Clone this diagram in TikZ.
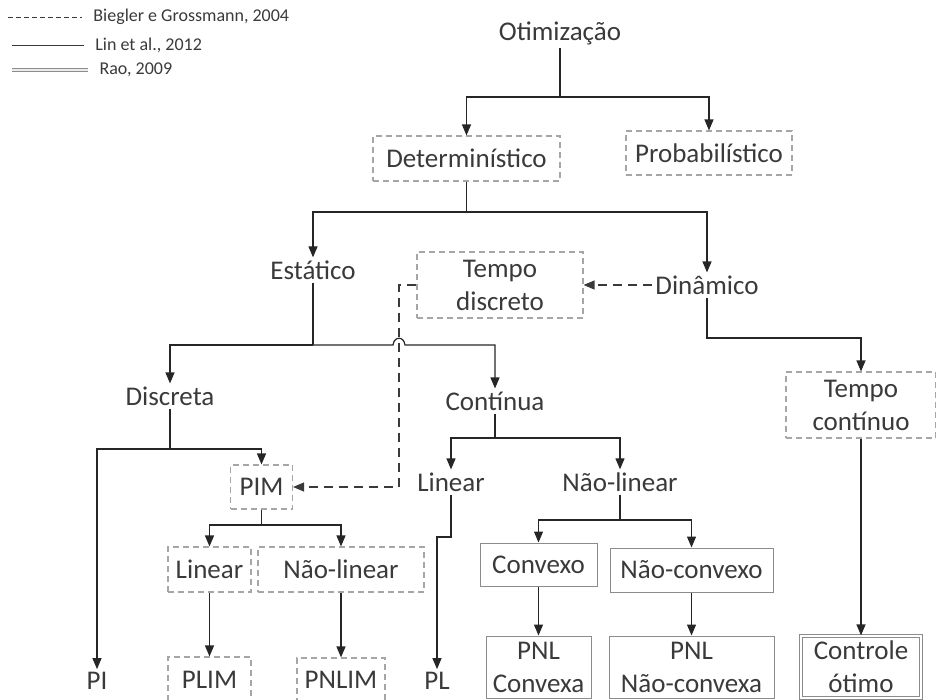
\documentclass[tikz,border=0pt]{standalone}
\usepackage{fontspec}
\setmainfont{Carlito}
\usetikzlibrary{arrows.meta}

\definecolor{txtgray}{HTML}{3A3A3A}
\definecolor{linegray}{HTML}{262626}
\definecolor{boxgray}{HTML}{A6A6A6}
\definecolor{solidgray}{HTML}{8C8C8C}

\tikzset{
  lbl/.style={text=txtgray, inner sep=3pt, align=center},
  dbox/.style={lbl, draw=boxgray, line width=1.1pt, dash pattern=on 6pt off 4pt},
  sbox/.style={lbl, draw=solidgray, line width=1pt},
  dblbox/.style={lbl, draw=solidgray, line width=1.2pt, double=white, double distance=1.6pt},
  line/.style={draw=linegray, line width=1.2pt},
  arr/.style={line, -{Triangle[length=11pt,width=9pt]}},
  darr/.style={arr, draw=txtgray, dash pattern=on 9pt off 6pt},
  legtxt/.style={text=txtgray, font=\fontsize{18}{21}\selectfont, anchor=west, inner sep=2pt, xshift=9pt}
}

\begin{document}
\begin{tikzpicture}[x=1pt, y=-1pt, font=\fontsize{27}{33}\selectfont]
\useasboundingbox (0,0) rectangle (936,699);

% legenda
\draw[draw=txtgray, line width=0.8pt, dash pattern=on 5pt off 3pt] (8,17) -- (82,17)
  node[legtxt] (legbg) {Biegler e Grossmann, 2004};
\draw[draw=txtgray, line width=0.8pt] (12,45) -- (84,45)
  node[legtxt] (leglin) {Lin et al., 2012};
\draw[draw=solidgray, line width=1pt, double=white!85!gray, double distance=1.5pt] (12,70) -- (88,70)
  node[legtxt] (legrao) {Rao, 2009};

% nos
\node[lbl] (otim) at (560,33) {Otimização};
\node[dbox, minimum width=187pt, minimum height=45pt] (det) at (466.5,158.5) {Determinístico};
\node[dbox, minimum width=166pt, minimum height=44pt] (prob) at (709,153) {Probabilístico};
\node[lbl] (est) at (313,270) {Estático};
\node[lbl] (din) at (707,285) {Dinâmico};
\node[dbox, minimum width=166pt, minimum height=66pt] (tdisc) at (500,285) {Tempo\\discreto};
\node[lbl] (disc) at (170,396) {Discreta};
\node[lbl] (cont) at (495,401) {Contínua};
\node[dbox, minimum width=150pt, minimum height=66pt] (tcont) at (861,405) {Tempo\\contínuo};
\node[dbox, minimum width=62pt, minimum height=44pt] (pim) at (261.5,487) {PIM};
\node[lbl] (lin) at (451,482) {Linear};
\node[lbl] (nlin) at (620,482) {Não-linear};
\node[dbox, minimum width=83pt, minimum height=45pt] (mlin) at (209.5,569.5) {Linear};
\node[dbox, minimum width=166pt, minimum height=45pt] (mnlin) at (341,569.5) {Não-linear};
\node[sbox, minimum width=117pt, minimum height=43pt] (conv) at (538.5,564.5) {Convexo};
\node[sbox, minimum width=163pt, minimum height=44pt] (nconv) at (691.5,570) {Não-convexo};
\node[lbl] (pi) at (97,681) {PI};
\node[dbox, minimum width=83pt, minimum height=46pt] (plim) at (209.5,680) {PLIM};
\node[dbox, minimum width=88pt, minimum height=44pt] (pnlim) at (341,680) {PNLIM};
\node[lbl] (pl) at (437,681) {PL};
\node[sbox, minimum width=105pt, minimum height=62pt] (pnlc) at (538.5,667) {PNL\\Convexa};
\node[sbox, minimum width=165pt, minimum height=62pt] (pnlnc) at (691.5,667) {PNL\\Não-convexa};
\node[dblbox, minimum width=120pt, minimum height=62pt] (ctrl) at (861,667) {Controle\\ótimo};

% ramificacoes
\coordinate (o1) at (560,97);
\draw[line] (otim.south) -- (o1);
\draw[arr] (o1) -| (det.north);
\draw[arr] (o1) -| (prob.north);

\coordinate (d1) at (466.5,212);
\draw[line] (det.south) -- (d1);
\draw[arr] (d1) -| (est.north);
\draw[arr] (d1) -| (din.north);

\coordinate (e1) at (313,345);
\draw[line] (est.south) -- (e1);
\draw[arr] (e1) -| (disc.north);
\draw[arr] (e1) -- (393,345) .. controls (394,336) and (404,336) .. (405,345) -| (cont.north);

\coordinate (di1) at (170,449);
\draw[line] (disc.south) -- (di1);
\draw[arr] (di1) -| (pi.north);
\draw[arr] (di1) -| (pim.north);

\coordinate (c1) at (495,438);
\draw[line] (cont.south) -- (c1);
\draw[arr] (c1) -| (lin.north);
\draw[arr] (c1) -| (nlin.north);

\coordinate (p1) at (261.5,525);
\draw[line] (pim.south) -- (p1);
\draw[arr] (p1) -| (mlin.north);
\draw[arr] (p1) -| (mnlin.north);
\draw[arr] (mlin) -- (plim);
\draw[arr] (mnlin) -- (pnlim);

\draw[arr] (lin.south) -- (451,537) -| (pl.north);

\coordinate (n1) at (620,520);
\draw[line] (nlin.south) -- (n1);
\draw[arr] (n1) -| (conv.north);
\draw[arr] (n1) -| (nconv.north);
\draw[arr] (conv) -- (pnlc);
\draw[arr] (nconv) -- (pnlnc);

\draw[arr] (din.south) -- (707,338) -| (tcont.north);
\draw[arr] (tcont) -- (ctrl);

% ligacoes tracejadas
\draw[darr] (din.west) -- (tdisc.east);
\draw[darr] (tdisc.west) -| (399,487) -- (pim.east);
\end{tikzpicture}
\end{document}
